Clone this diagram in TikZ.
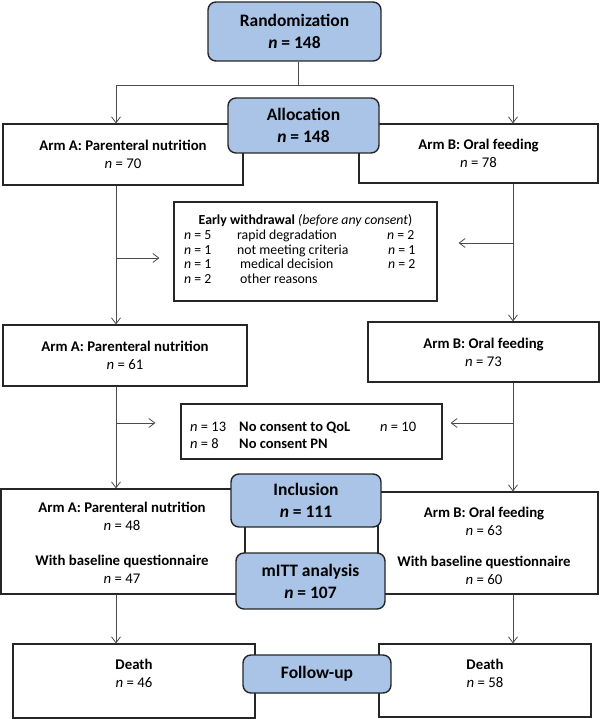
\documentclass[tikz,border=0pt]{standalone}
\usepackage{fontspec}
\setmainfont{Carlito}
\usetikzlibrary{arrows.meta}
\definecolor{bluefill}{RGB}{169,196,231}
\definecolor{edgecol}{RGB}{38,38,38}
\definecolor{conncol}{RGB}{75,75,75}
\begin{document}
\begin{tikzpicture}[x=1pt,y=-1pt,
  wbox/.style={draw=edgecol, line width=1.1pt, fill=white, inner sep=0pt, align=center,
    font=\fontsize{14.8}{18}\selectfont},
  bbox/.style={draw=edgecol, line width=1.4pt, fill=bluefill, rounded corners=8pt, inner sep=0pt,
    align=center, font=\fontsize{17.5}{22}\selectfont\bfseries},
  plain/.style={inner sep=0pt, align=center, font=\fontsize{14.8}{18}\selectfont},
  rowtxt/.style={inner sep=0pt, anchor=base west, font=\fontsize{13.8}{16}\selectfont},
  conn/.style={draw=conncol, line width=0.8pt},
  arr/.style={conn, -{Straight Barb[length=6pt,width=9pt]}}
]
\useasboundingbox (0,0) rectangle (600,719);

% top
\node[bbox, minimum width=173pt, minimum height=59pt] (rand) at (294.5,31.5) {Randomization\\\textit{n} = 148};
\node[wbox, minimum width=240pt, minimum height=61pt] (A1) at (123,154.5) {\textbf{Arm A: Parenteral nutrition}\\\textit{n} = 70};
\node[wbox, minimum width=239pt, minimum height=59pt] (B1) at (478.5,153.5) {\textbf{Arm B: Oral feeding}\\\textit{n} = 78};
\node[bbox, minimum width=151pt, minimum height=55pt] (alloc) at (303.5,125.5) {Allocation\\\textit{n} = 148};

% early withdrawal
\node[wbox, minimum width=263pt, minimum height=99pt] (EW) at (305.5,251.5) {};
\node[plain, font=\fontsize{13.8}{16}\selectfont] (EWt) at (305.5,221) {\textbf{Early withdrawal} \textit{(before any consent})};
\node[rowtxt] (EW1) at (184,240) {\makebox[53pt][l]{\textit{n} = 5}\makebox[150pt][l]{rapid degradation}\textit{n} = 2};
\node[rowtxt] (EW2) at (184,254) {\makebox[53pt][l]{\textit{n} = 1}\makebox[151pt][l]{not meeting criteria}\textit{n} = 1};
\node[rowtxt] (EW3) at (184,268) {\makebox[53pt][l]{\textit{n} = 1}\makebox[151pt][l]{\hspace{3pt}medical decision}\textit{n} = 2};
\node[rowtxt] (EW4) at (184,283) {\makebox[53pt][l]{\textit{n} = 2}\hspace{3pt}other reasons};

% second arms
\node[wbox, minimum width=244pt, minimum height=61pt] (A2) at (125,355.5) {\textbf{Arm A: Parenteral nutrition}\\\textit{n} = 61};
\node[wbox, minimum width=231pt, minimum height=60pt] (B2) at (483.5,352) {\textbf{Arm B: Oral feeding}\\\textit{n} = 73};

% consent
\node[wbox, minimum width=261pt, minimum height=55pt] (CS) at (311.5,431.5) {};
\node[rowtxt, font=\fontsize{14.5}{16}\selectfont] (CS1) at (190,431) {\makebox[49pt][l]{\textit{n} = 13}\makebox[141pt][l]{\bfseries No consent to QoL}\textit{n} = 10};
\node[rowtxt, font=\fontsize{14.5}{16}\selectfont] (CS2) at (190,448) {\makebox[49pt][l]{\textit{n} = 8}\textbf{No consent PN}};

% inclusion arms
\node[wbox, minimum width=244pt, minimum height=105pt] (A3) at (123,541.5) {};
\node[wbox, minimum width=220pt, minimum height=102pt] (B3) at (488,543) {};
\node[plain] (A3t) at (122,542.5) {\textbf{Arm A: Parenteral nutrition}\\\textit{n} = 48\\[17pt]\textbf{With baseline questionnaire}\\\textit{n} = 47};
\node[plain] (B3t) at (484,545.5) {\textbf{Arm B: Oral feeding}\\\textit{n} = 63\\[13pt]\textbf{With baseline questionnaire}\\\textit{n} = 60};
\node[bbox, minimum width=150pt, minimum height=53pt] (incl) at (306,500.5) {Inclusion\\\textit{n} = 111};
\node[bbox, minimum width=149pt, minimum height=56pt] (mitt) at (310.5,581) {mITT analysis\\\textit{n} = 107};

% follow-up
\node[wbox, minimum width=242pt, minimum height=74pt] (A4) at (134,681) {};
\node[wbox, minimum width=212pt, minimum height=73pt] (B4) at (485,680.5) {};
\node[plain] (A4t) at (134,673) {\textbf{Death}\\\textit{n} = 46};
\node[plain] (B4t) at (485,673) {\textbf{Death}\\\textit{n} = 58};
\node[bbox, minimum width=148pt, minimum height=38pt] (fu) at (317,674) {Follow-up};

% connectors
\coordinate (split) at (298,85);
\coordinate (la) at (116,0);
\coordinate (rb) at (513,0);
\draw[conn] (rand.south -| split) -- (split);
\draw[arr] (split) -| (A1.north -| la);
\draw[arr] (split) -| (B1.north -| rb);
\draw[arr] (A1.south -| la) -- (A2.north -| la);
\draw[arr] (B1.south -| rb) -- (B2.north -| rb);
\coordinate (ewl) at (116,258);
\coordinate (ewr) at (513,243);
\draw[arr, shorten >=14pt] (ewl) -- (ewl -| EW.west);
\draw[arr, shorten >=21pt] (ewr) -- (ewr -| EW.east);
\draw[arr] (A2.south -| la) -- (A3.north -| la);
\draw[arr] (B2.south -| rb) -- (B3.north -| rb);
\coordinate (csl) at (116,423);
\coordinate (csr) at (513,423);
\draw[arr, shorten >=25pt] (csl) -- (csl -| CS.west);
\draw[arr, shorten >=8pt] (csr) -- (csr -| CS.east);
\draw[arr] (A3.south -| la) -- (A4.north -| la);
\draw[arr] (B3.south -| rb) -- (B4.north -| rb);
\end{tikzpicture}
\end{document}
